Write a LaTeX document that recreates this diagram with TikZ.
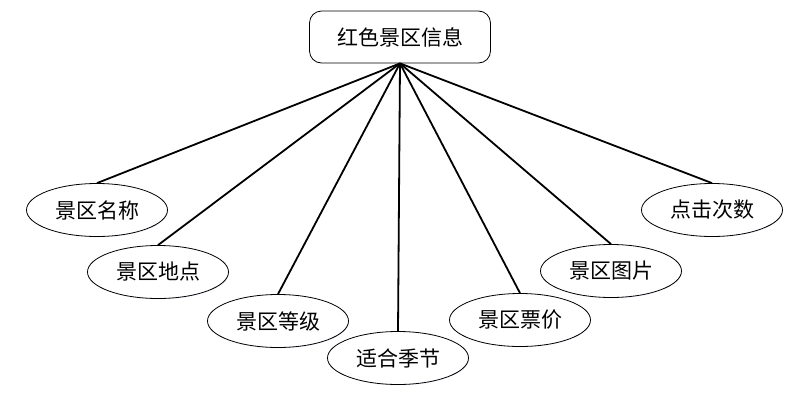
\documentclass[tikz,border=0pt]{standalone}
\usepackage{fontspec}
\newfontfamily\cjk{Noto Sans CJK SC}
\usetikzlibrary{shapes.geometric,shadows}

\begin{document}
\begin{tikzpicture}[
  x=1pt, y=-1pt,
  font=\cjk\fontsize{21}{25}\selectfont,
  root/.style={draw, rounded corners=12pt, minimum width=181pt, minimum height=52pt, inner sep=0pt, line width=0.8pt, fill=white},
  attr/.style={draw, ellipse, minimum width=141pt, minimum height=53pt, inner sep=0pt, line width=0.8pt, fill=white,
    drop shadow={shadow xshift=0.8pt, shadow yshift=-0.8pt, opacity=0.25, fill=blue!20}},
  link/.style={line width=1.8pt}
]
  \useasboundingbox (0,0) rectangle (808,402);
  \node[root] (info) at (400,37) {红色景区信息};

  \node[attr] (name)   at (97,210)  {景区名称};
  \node[attr] (place)  at (158,272) {景区地点};
  \node[attr] (grade)  at (278,321) {景区等级};
  \node[attr] (season) at (398,358) {适合季节};
  \node[attr] (price)  at (520,320) {景区票价};
  \node[attr] (photo)  at (611,271) {景区图片};
  \node[attr] (clicks) at (712,210) {点击次数};

  \foreach \n in {name,place,grade,season,price,photo,clicks}
    \draw[link] (info.south) -- (\n.north);
\end{tikzpicture}
\end{document}
